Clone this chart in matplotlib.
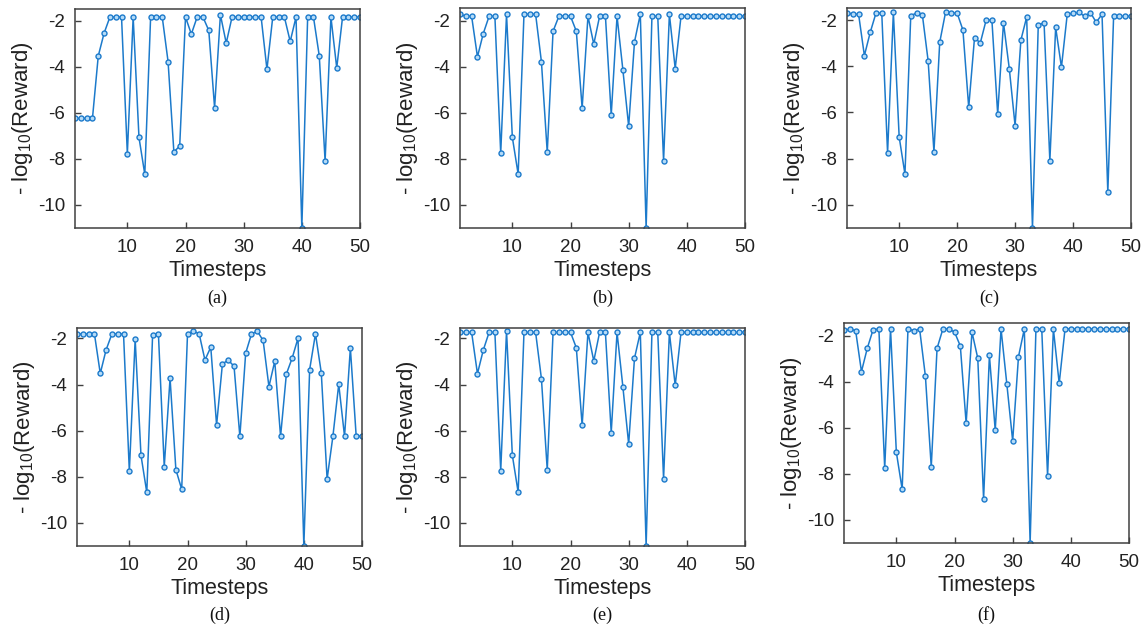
import matplotlib
matplotlib.use("Agg")
import matplotlib.pyplot as plt
import numpy as np

plt.rcParams['font.family'] = ['Liberation Sans', 'DejaVu Sans']
plt.rcParams['axes.unicode_minus'] = False
plt.rcParams['mathtext.default'] = 'regular'

timesteps = list(range(1, 51))

series_a = [-6.24, -6.24, -6.24, -6.24, -3.53, -2.54, -1.84, -1.84, -1.84, -7.77,
            -1.84, -7.07, -8.67, -1.84, -1.84, -1.84, -3.77, -7.70, -7.44, -1.84,
            -2.58, -1.84, -1.84, -2.42, -5.78, -1.74, -2.97, -1.84, -1.84, -1.84,
            -1.84, -1.84, -1.84, -4.11, -1.84, -1.84, -1.84, -2.90, -1.84, -11.0,
            -1.84, -1.84, -3.53, -8.10, -1.84, -4.05, -1.84, -1.84, -1.84, -1.84]

series_b = [-1.71, -1.80, -1.80, -3.56, -2.55, -1.80, -1.80, -7.75, -1.71, -7.06,
            -8.66, -1.71, -1.71, -1.71, -3.78, -7.71, -2.45, -1.80, -1.78, -1.80,
            -2.45, -5.79, -1.80, -3.01, -1.80, -1.78, -6.09, -1.80, -4.12, -6.58,
            -2.91, -1.71, -11.0, -1.80, -1.80, -8.08, -1.71, -4.07, -1.80, -1.80,
            -1.80, -1.80, -1.80, -1.80, -1.80, -1.80, -1.80, -1.80, -1.80, -1.80]

series_c = [-1.68, -1.75, -1.75, -3.54, -2.54, -1.70, -1.71, -7.75, -1.67, -7.06,
            -8.67, -1.81, -1.70, -1.77, -3.77, -7.70, -2.96, -1.67, -1.70, -1.70,
            -2.43, -5.78, -2.77, -2.99, -2.01, -2.00, -6.07, -2.12, -4.10, -6.57,
            -2.87, -1.87, -11.0, -2.22, -2.12, -8.09, -2.32, -4.04, -1.75, -1.70,
            -1.67, -1.84, -1.68, -2.10, -1.75, -9.46, -1.84, -1.84, -1.84, -1.84]

series_d = [-1.81, -1.81, -1.81, -1.81, -3.52, -2.50, -1.81, -1.81, -1.81, -7.76,
            -2.04, -7.07, -8.68, -1.85, -1.81, -7.56, -3.73, -7.69, -8.54, -1.81,
            -1.68, -1.80, -2.94, -2.38, -5.76, -3.11, -2.94, -3.21, -6.25, -2.64,
            -1.81, -1.69, -2.09, -4.09, -2.99, -6.25, -3.54, -2.85, -1.99, -11.0,
            -3.35, -1.80, -3.49, -8.10, -6.24, -3.99, -6.25, -2.42, -6.24, -6.24]

series_e = [-1.74, -1.74, -1.74, -3.53, -2.51, -1.74, -1.74, -7.75, -1.67, -7.07,
            -8.67, -1.74, -1.74, -1.74, -3.75, -7.70, -1.74, -1.74, -1.74, -1.74,
            -2.41, -5.77, -1.74, -2.98, -1.74, -1.74, -6.08, -1.74, -4.09, -6.58,
            -2.86, -1.74, -11.0, -1.74, -1.74, -8.09, -1.74, -4.04, -1.74, -1.74,
            -1.74, -1.74, -1.74, -1.74, -1.74, -1.74, -1.74, -1.74, -1.74, -1.74]

series_f = [-1.77, -1.71, -1.78, -3.56, -2.55, -1.74, -1.71, -7.76, -1.71, -7.06,
            -8.67, -1.71, -1.78, -1.71, -3.77, -7.70, -2.55, -1.71, -1.71, -1.84,
            -2.45, -5.80, -1.84, -2.98, -9.09, -2.85, -6.11, -1.71, -4.11, -6.57,
            -2.91, -1.71, -11.0, -1.71, -1.71, -8.09, -1.71, -4.07, -1.71, -1.71,
            -1.71, -1.71, -1.71, -1.71, -1.71, -1.71, -1.71, -1.71, -1.71, -1.71]

captions = ['(a)', '(b)', '(c)', '(d)', '(e)', '(f)']
all_series = [series_a, series_b, series_c, series_d, series_e, series_f]
x_ticks = [10, 20, 30, 40, 50]
y_ticks = [-2, -4, -6, -8, -10]
y_ticklabels = ['-2', '-4', '-6', '-8', '-10']

W, H = 1146, 626
fig = plt.figure(figsize=(W / 100, H / 100), dpi=100)

# pixel boxes (left, top, right, bottom)
boxes = [(75, 9, 360, 228), (460, 8, 745, 228), (847, 8, 1131, 228),
         (77, 328, 362, 546), (460, 328, 745, 546), (844, 323, 1129, 543)]
ylims = [(-11.0, -1.49), (-11.0, -1.44), (-11.0, -1.48),
         (-11.0, -1.55), (-11.0, -1.55), (-11.0, -1.45)]
caption_y = [298, 298, 298, 615, 615, 615]

line_color = '#1c7acb'
spine_color = '#404040'

for series, cap, (l, t, r, b), yl, cy in zip(all_series, captions, boxes, ylims, caption_y):
    ax = fig.add_axes([l / W, 1 - b / H, (r - l) / W, (b - t) / H])
    ax.plot(timesteps, series, color=line_color, lw=1.1, marker='o', ms=3.6,
            mfc='#b5dbf7', mec=line_color, mew=1.0)
    ax.set_xlim(1, 50)
    ax.set_ylim(*yl)
    ax.set_xticks(x_ticks)
    ax.set_yticks(y_ticks)
    ax.set_yticklabels(y_ticklabels)
    ax.tick_params(direction='in', length=4, width=1, colors=spine_color,
                   labelcolor='#222222', labelsize=13.5)
    ax.tick_params(axis='x', pad=8)
    ax.tick_params(axis='y', pad=7)
    for s in ax.spines.values():
        s.set_color(spine_color)
        s.set_linewidth(1.1)
    ax.set_xlabel('Timesteps', fontsize=15.5, color='#222222', labelpad=3)
    ax.set_ylabel('- log$_{10}$(Reward)', fontsize=16, color='#222222', labelpad=2)
    fig.text((l + r) / 2 / W, 1 - cy / H, cap, ha='center', va='center',
             fontsize=13, family=['Liberation Serif', 'DejaVu Serif'], color='#111111')

fig.savefig('out.png', dpi=100)
